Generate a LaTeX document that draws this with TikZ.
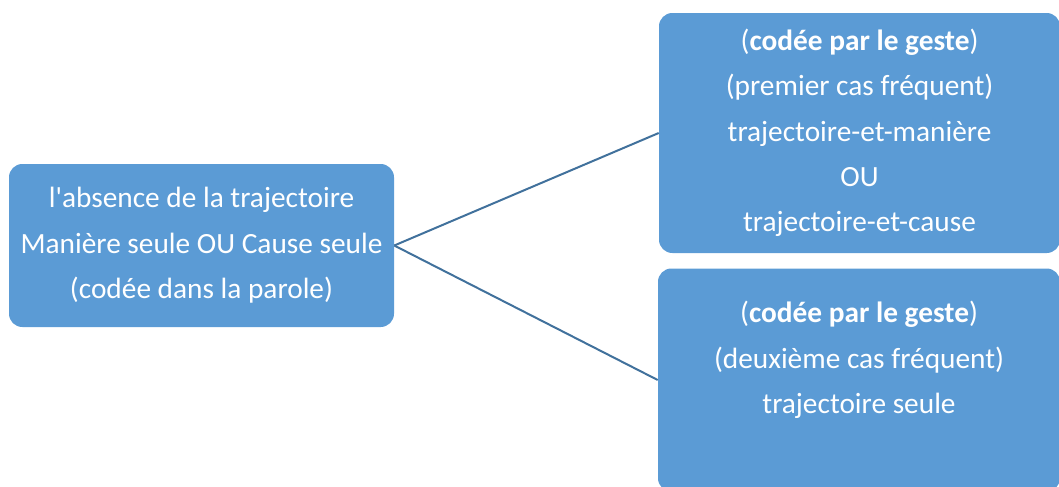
\documentclass[tikz,border=0pt]{standalone}
\usepackage{fontspec}
\setmainfont{Carlito}
\definecolor{boxblue}{HTML}{5B9BD5}
\definecolor{lineblue}{HTML}{41719C}
\begin{document}
\begin{tikzpicture}[x=0.75pt,y=-0.75pt,
    box/.style={fill=boxblue,rounded corners=10pt,text=white,align=center,
      font=\fontsize{22}{34}\selectfont,inner sep=0pt},
    link/.style={draw=lineblue,line width=1.5pt}]
  \useasboundingbox (0,0) rectangle (1059,486);
  \clip (0,0) rectangle (1059,486);
  % boxes
  \node[box,minimum width=288.75pt,minimum height=122.25pt] (absence) at (201.5,245.5)
    {l\textquotesingle absence de la trajectoire\\Manière seule OU Cause seule\\(codée dans la parole)};
  \node[box,minimum width=300.75pt,minimum height=180pt] (premier) at (859.5,133)
    {(\textbf{codée par le geste})\\(premier cas fréquent)\\trajectoire-et-manière\\OU\\trajectoire-et-cause};
  \node[box,minimum width=301.5pt,minimum height=167.25pt] (deuxieme) at (859,380)
    {(\textbf{codée par le geste})\\(deuxième cas fréquent)\\trajectoire seule\\\mbox{}};
  % links
  \draw[link] (absence.east) -- (premier.west);
  \draw[link] (absence.east) -- (deuxieme.west);
\end{tikzpicture}
\end{document}
